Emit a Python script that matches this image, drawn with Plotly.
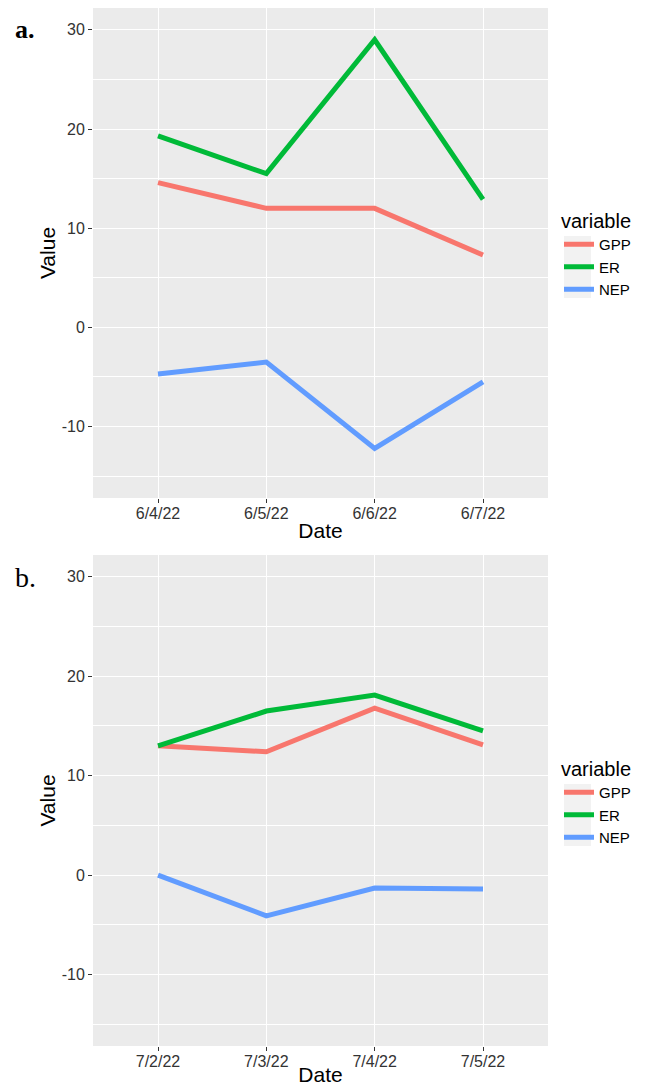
import plotly.graph_objects as go

dates_a = ["6/4/22", "6/5/22", "6/6/22", "6/7/22"]
gpp_a = [14.6, 12.0, 12.0, 7.3]
er_a = [19.3, 15.5, 29.0, 12.9]
nep_a = [-4.7, -3.5, -12.2, -5.5]

dates_b = ["7/2/22", "7/3/22", "7/4/22", "7/5/22"]
gpp_b = [13.0, 12.4, 16.8, 13.1]
er_b = [13.0, 16.5, 18.1, 14.5]
nep_b = [0.0, -4.1, -1.3, -1.4]

series_names = ["GPP", "ER", "NEP"]
colors = ["#F8766D", "#00BA38", "#619CFF"]
y_ticks = [-10, 0, 10, 20, 30]
y_ticklabels = ["-10", "0", "10", "20", "30"]

W, H = 653, 1086
L, R, T, B = 93, 105, 8, 40
ph = H - T - B
pw = W - L - R

def py(px):
    return 1 - (px - T) / ph

def pxf(px):
    return (px - L) / pw

fig = go.Figure()
panels = [
    (dates_a, [gpp_a, er_a, nep_a], "x", "y", "legend"),
    (dates_b, [gpp_b, er_b, nep_b], "x2", "y2", "legend2"),
]
for dates, vals, xa, ya, lg in panels:
    for name, v, c in zip(series_names, vals, colors):
        fig.add_trace(go.Scatter(
            x=dates, y=v, mode="lines", name=name,
            line=dict(color=c, width=5), xaxis=xa, yaxis=ya, legend=lg,
        ))

FONT = "Liberation Sans, Arial, sans-serif"
axis_font = dict(family=FONT, size=16, color="#333333")
title_font = dict(family=FONT, size=21, color="black")

def xaxis(anchor, cats):
    return dict(
        anchor=anchor, domain=[0, 1], type="category",
        categoryorder="array", categoryarray=cats,
        range=[-0.6, len(cats) - 0.4],
        showgrid=True, gridcolor="white", gridwidth=1.2,
        ticks="outside", ticklen=4, tickcolor="#333333",
        tickfont=axis_font, zeroline=False, showline=False,
        automargin=False, ticklabelstandoff=-3,
        title=dict(text="Date", font=title_font, standoff=2),
    )

def yaxis(anchor, dom):
    return dict(
        anchor=anchor, domain=dom, range=[-17.2, 32.2],
        tickvals=y_ticks, ticktext=y_ticklabels,
        showgrid=True, gridcolor="white", gridwidth=1.2,
        minor=dict(tick0=5, dtick=10, showgrid=True, gridcolor="white", gridwidth=0.6),
        ticks="outside", ticklen=4, tickcolor="#333333",
        tickfont=axis_font, zeroline=False, showline=False,
        automargin=False,
        title=dict(text="Value", font=title_font, standoff=0),
    )

leg_common = dict(
    x=pxf(559), xanchor="left", yanchor="top",
    bgcolor="rgba(0,0,0,0)", borderwidth=0,
    font=dict(family=FONT, size=15, color="black"),
    title=dict(text="variable", font=dict(family=FONT, size=20, color="black")),
    tracegroupgap=0, itemwidth=30,
)

key_boxes = [
    dict(type="rect", xref="paper", yref="paper",
         x0=pxf(564), x1=pxf(591), y0=py(236), y1=py(298),
         fillcolor="#F2F2F2", line=dict(width=0), layer="below"),
    dict(type="rect", xref="paper", yref="paper",
         x0=pxf(564), x1=pxf(591), y0=py(784), y1=py(846),
         fillcolor="#F2F2F2", line=dict(width=0), layer="below"),
]

fig.update_layout(
    width=W, height=H,
    margin=dict(l=L, r=R, t=T, b=B, autoexpand=False),
    paper_bgcolor="white", plot_bgcolor="#EBEBEB",
    xaxis=xaxis("y", dates_a),
    yaxis=yaxis("x", [py(498), 1]),
    xaxis2=xaxis("y2", dates_b),
    yaxis2=yaxis("x2", [0, py(555)]),
    legend=dict(y=py(202), **leg_common),
    legend2=dict(y=py(750), **leg_common),
    shapes=key_boxes,
    annotations=[
        dict(text="<b>a.</b>", xref="paper", yref="paper", x=pxf(25), y=py(30),
             xanchor="center", yanchor="middle", showarrow=False,
             font=dict(family="Liberation Serif, DejaVu Serif, serif", size=26, color="black")),
        dict(text="b.", xref="paper", yref="paper", x=pxf(25), y=py(577),
             xanchor="center", yanchor="middle", showarrow=False,
             font=dict(family="Liberation Serif, DejaVu Serif, serif", size=28, color="black")),
    ],
)

fig.write_html(
    "out.html",
    config={"displayModeBar": False},
    post_script="document.body.style.margin='0';document.body.style.overflow='hidden';",
)
